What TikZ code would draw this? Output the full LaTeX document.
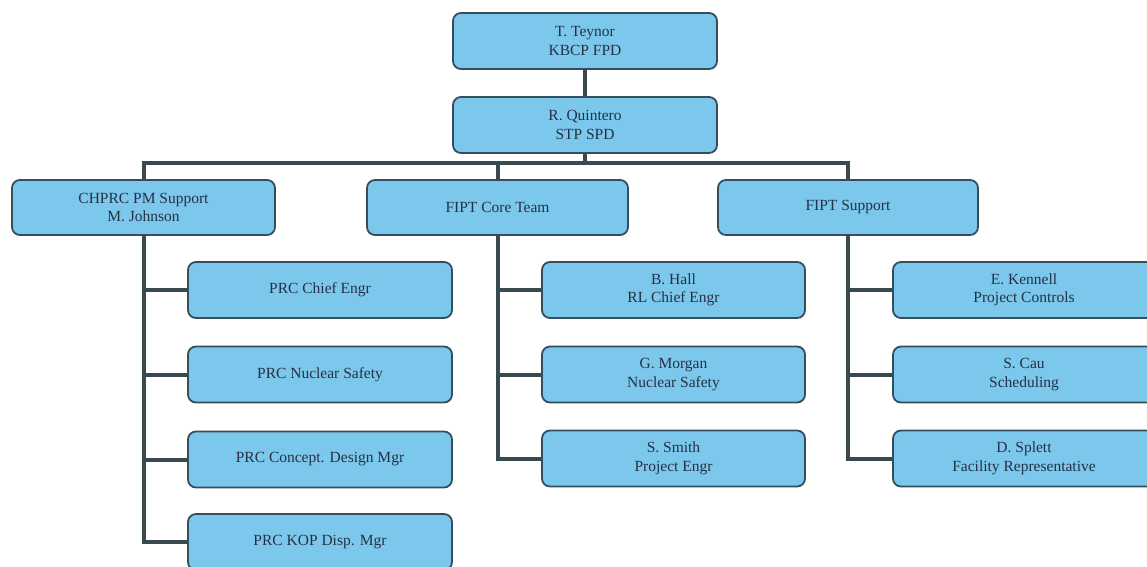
\documentclass[tikz,border=0pt]{standalone}
\usepackage{fontspec}
\setmainfont{Liberation Serif}
\definecolor{boxfill}{RGB}{124,200,236}
\definecolor{boxline}{RGB}{52,78,92}
\definecolor{connline}{RGB}{56,74,80}
\definecolor{txt}{RGB}{38,48,68}
\begin{document}
\begin{tikzpicture}[x=1pt,y=-1pt,
  orgbox/.style={draw=boxline, line width=1.8pt, fill=boxfill, rounded corners=8pt,
    minimum height=56pt, inner sep=2pt, align=center, text=txt,
    font=\fontsize{15.5}{18.5}\selectfont},
  conn/.style={draw=connline, line width=4pt}]
\useasboundingbox (0,0) rectangle (1147,566);
\clip (0,0) rectangle (1147,566);
\fill[white] (0,0) rectangle (1147,566);
% top
\node[orgbox, minimum width=264pt] (t) at (585,41) {T. Teynor\\KBCP FPD};
\node[orgbox, minimum width=264pt] (q) at (585,125) {R. Quintero\\STP SPD};
% headers
\node[orgbox, minimum width=263pt, minimum height=55pt] (hL) at (143.5,207.5) {CHPRC PM Support\\M. Johnson};
\node[orgbox, minimum width=261pt, minimum height=55pt] (hM) at (497.5,207.5) {FIPT Core Team};
\node[orgbox, minimum width=260pt, minimum height=55pt] (hR) at (848,207.5) {FIPT Support};
% left children
\node[orgbox, minimum width=264pt] (l1) at (320,290) {PRC Chief Engr};
\node[orgbox, minimum width=264pt] (l2) at (320,374.5) {PRC Nuclear Safety};
\node[orgbox, minimum width=264pt] (l3) at (320,459.5) {PRC Concept. Design Mgr};
\node[orgbox, minimum width=264pt] (l4) at (320,542) {PRC KOP Disp. Mgr};
% middle children
\node[orgbox, minimum width=263pt] (m1) at (673.5,290) {B. Hall\\RL Chief Engr};
\node[orgbox, minimum width=263pt] (m2) at (673.5,374.5) {G. Morgan\\Nuclear Safety};
\node[orgbox, minimum width=263pt] (m3) at (673.5,458.5) {S. Smith\\Project Engr};
% right children
\node[orgbox, minimum width=262pt] (r1) at (1024,290) {E. Kennell\\Project Controls};
\node[orgbox, minimum width=262pt] (r2) at (1024,374.5) {S. Cau\\Scheduling};
\node[orgbox, minimum width=262pt] (r3) at (1024,458.5) {D. Splett\\Facility Representative};
% connectors
\coordinate (bus) at (585,163);
\draw[conn] (t.south) -- (q.north);
\draw[conn] (q.south) -- (bus);
\draw[conn] (hL.north) |- (bus) -| (hR.north);
\draw[conn] (bus) -| (hM.north);
\draw[conn] (hL.south) |- (l4.west);
\draw[conn] (l1.west) -- (l1.west -| hL.south);
\draw[conn] (l2.west) -- (l2.west -| hL.south);
\draw[conn] (l3.west) -- (l3.west -| hL.south);
\draw[conn] (hM.south) |- (m3.west);
\draw[conn] (m1.west) -- (m1.west -| hM.south);
\draw[conn] (m2.west) -- (m2.west -| hM.south);
\draw[conn] (hR.south) |- (r3.west);
\draw[conn] (r1.west) -- (r1.west -| hR.south);
\draw[conn] (r2.west) -- (r2.west -| hR.south);
\end{tikzpicture}
\end{document}
